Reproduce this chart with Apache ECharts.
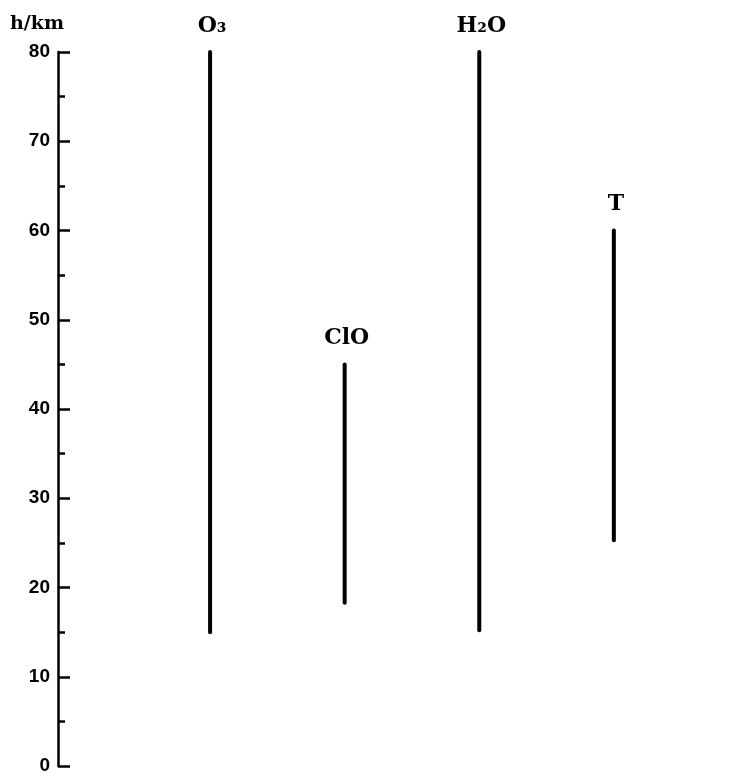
<!DOCTYPE html>
<html>
<head>
<meta charset="utf-8">
<script src="https://cdn.jsdelivr.net/npm/echarts@6/dist/echarts.min.js"></script>
<style>html,body{margin:0;padding:0;background:#fff}#c{width:735px;height:776px}</style>
</head>
<body>
<div id="c"></div>
<script>
// Data
var species = ['O\u2083', 'ClO', 'H\u2082O', 'T'];
var lowKm  = [15, 18.3, 15.2, 25.3];
var highKm = [80, 45, 80, 60];
var yTicks = [0, 10, 20, 30, 40, 50, 60, 70, 80];

var chart = echarts.init(document.getElementById('c'));
var data = species.map(function (s, i) { return [i + 1, lowKm[i], highKm[i]]; });

chart.setOption({
  animation: false,
  backgroundColor: '#fff',
  grid: { left: 58, right: 35, top: 52, bottom: 10, outerBoundsMode: 'none' },
  xAxis: { type: 'value', min: -0.13, max: 4.64, show: false },
  yAxis: {
    type: 'value', min: 0, max: 80, interval: 10,
    name: 'h/km', nameLocation: 'end', nameGap: 18,
    nameTextStyle: { fontFamily: 'DejaVu Serif', fontWeight: 'bold', fontSize: 19, color: '#000', align: 'right', padding: [0, -6, 0, 0] },
    axisLine: { show: true, onZero: false, lineStyle: { color: '#000', width: 2.5 } },
    axisTick: { show: true, inside: true, length: 12, lineStyle: { color: '#000', width: 2.5 } },
    minorTick: { show: true, splitNumber: 2, length: 7, lineStyle: { color: '#000', width: 2.5 } },
    splitLine: { show: false },
    axisLabel: {
      fontFamily: 'Liberation Sans', fontWeight: 'bold', fontSize: 19, color: '#000', margin: 8,
      formatter: function (v) { return yTicks.indexOf(v) >= 0 ? String(v) : ''; }
    }
  },
  series: [{
    type: 'custom',
    data: data,
    renderItem: function (params, api) {
      var x = api.value(0);
      var p0 = api.coord([x, api.value(1)]);
      var p1 = api.coord([x, api.value(2)]);
      return {
        type: 'group',
        children: [
          { type: 'line', shape: { x1: p0[0], y1: p0[1], x2: p1[0], y2: p1[1] },
            style: { stroke: '#000', lineWidth: 4, lineCap: 'round' } },
          { type: 'text', x: p1[0] + 2, y: p1[1] - 26,
            style: { text: species[params.dataIndex], fill: '#000', fontFamily: 'DejaVu Serif', fontWeight: 'bold', fontSize: 22, align: 'center', verticalAlign: 'middle' } }
        ]
      };
    }
  }]
});
</script>
</body>
</html>
